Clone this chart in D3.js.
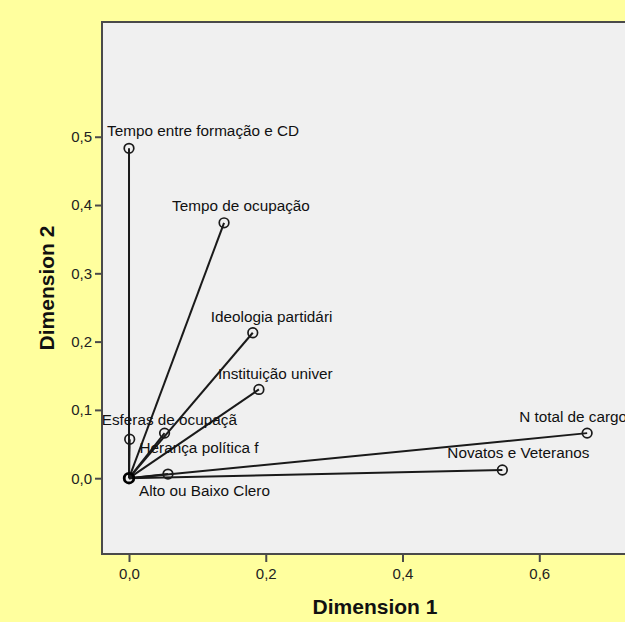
<!DOCTYPE html>
<html>
<head>
<meta charset="utf-8">
<script src="https://cdn.jsdelivr.net/npm/d3@7"></script>
<style>
  html, body { margin: 0; padding: 0; background: #FFFF9E; }
  svg { display: block; }
  text { font-family: "Liberation Sans", Arial, sans-serif; }
</style>
</head>
<body>
<script>
// Discrimination measures (dimension 1 and 2) per variable
const variables = [
  "Tempo entre formação e CD",
  "Tempo de ocupação",
  "Ideologia partidári",
  "Instituição univer",
  "Esferas de ocupaçã",
  "Herança política f",
  "Alto ou Baixo Clero",
  "N total de cargo",
  "Novatos e Veteranos"
];
const dimension1 = [0.000, 0.139, 0.181, 0.190, 0.001, 0.052, 0.057, 0.670, 0.546];
const dimension2 = [0.483, 0.374, 0.213, 0.130, 0.057, 0.066, 0.006, 0.066, 0.012];

const xTicks = [0.0, 0.2, 0.4, 0.6];
const yTicks = [0.0, 0.1, 0.2, 0.3, 0.4, 0.5];
const xTitle = "Dimension 1";
const yTitle = "Dimension 2";

const W = 625, H = 622;
const plot = { left: 102, top: 22, right: 648, bottom: 554 };

const svg = d3.select("body").append("svg")
  .attr("width", W).attr("height", H);

svg.append("rect").attr("width", W).attr("height", H).attr("fill", "#FFFF9E");

const x = d3.scaleLinear().domain([-0.0395, 0.759]).range([plot.left, plot.right]);
const y = d3.scaleLinear().domain([-0.111, 0.668]).range([plot.bottom, plot.top]);

// plot area
svg.append("rect")
  .attr("x", plot.left).attr("y", plot.top)
  .attr("width", plot.right - plot.left).attr("height", plot.bottom - plot.top)
  .attr("fill", "#F0F0F0")
  .attr("stroke", "#4a4a4a").attr("stroke-width", 2);

const fmt = d => d3.format(".1f")(d).replace(".", ",");

const xAxis = svg.append("g")
  .attr("transform", `translate(0,${plot.bottom})`)
  .call(d3.axisBottom(x).tickValues(xTicks).tickFormat(fmt).tickSize(8).tickPadding(6));
const yAxis = svg.append("g")
  .attr("transform", `translate(${plot.left},0)`)
  .call(d3.axisLeft(y).tickValues(yTicks).tickFormat(fmt).tickSize(7).tickPadding(3));

[xAxis, yAxis].forEach(g => {
  g.select(".domain").remove();
  g.selectAll(".tick line").attr("stroke", "#4a4a4a").attr("stroke-width", 2);
  g.selectAll(".tick text")
    .attr("fill", "#222")
    .style("font-size", "15px")
    .style("font-family", '"Liberation Sans", Arial, sans-serif');
});

// axis titles
svg.append("text")
  .attr("x", (plot.left + plot.right) / 2).attr("y", 614)
  .attr("text-anchor", "middle")
  .style("font-size", "21px").style("font-weight", "bold")
  .attr("fill", "#111")
  .text(xTitle);

svg.append("text")
  .attr("transform", `translate(54,${(plot.top + plot.bottom) / 2}) rotate(-90)`)
  .attr("text-anchor", "middle")
  .style("font-size", "21px").style("font-weight", "bold")
  .attr("fill", "#111")
  .text(yTitle);

// clip for marks and labels
svg.append("clipPath").attr("id", "plot-clip")
  .append("rect")
  .attr("x", plot.left + 1).attr("y", plot.top + 1)
  .attr("width", plot.right - plot.left - 2).attr("height", plot.bottom - plot.top - 2);

const marks = svg.append("g").attr("clip-path", "url(#plot-clip)");

const points = variables.map((name, i) => ({ name, d1: dimension1[i], d2: dimension2[i] }));

// vectors from the origin
marks.selectAll("line.vec").data(points).join("line")
  .attr("class", "vec")
  .attr("x1", x(0)).attr("y1", y(0))
  .attr("x2", d => x(d.d1)).attr("y2", d => y(d.d2))
  .attr("stroke", "#1a1a1a").attr("stroke-width", 2);

// origin marker
marks.append("circle")
  .attr("cx", x(0)).attr("cy", y(0)).attr("r", 4.8)
  .attr("fill", "none").attr("stroke", "#000").attr("stroke-width", 2.8);

marks.selectAll("circle.pt").data(points).join("circle")
  .attr("class", "pt")
  .attr("cx", d => x(d.d1)).attr("cy", d => y(d.d2)).attr("r", 4.8)
  .attr("fill", "none").attr("stroke", "#1a1a1a").attr("stroke-width", 1.7);

// label placement: text start offset and baseline offset from each point
const labelOffset = {
  "Tempo entre formação e CD": [-22, -12],
  "Tempo de ocupação": [-52, -12],
  "Ideologia partidári": [-42, -11],
  "Instituição univer": [-41, -10],
  "Esferas de ocupaçã": [-28, -14],
  "Herança política f": [-25, 20],
  "Alto ou Baixo Clero": [-29, 22],
  "N total de cargo": [-68, -11],
  "Novatos e Veteranos": [-55, -12]
};

marks.selectAll("text.lbl").data(points).join("text")
  .attr("class", "lbl")
  .attr("x", d => x(d.d1) + labelOffset[d.name][0])
  .attr("y", d => y(d.d2) + labelOffset[d.name][1])
  .style("font-size", "15.3px")
  .attr("fill", "#111")
  .text(d => d.name);
</script>
</body>
</html>
